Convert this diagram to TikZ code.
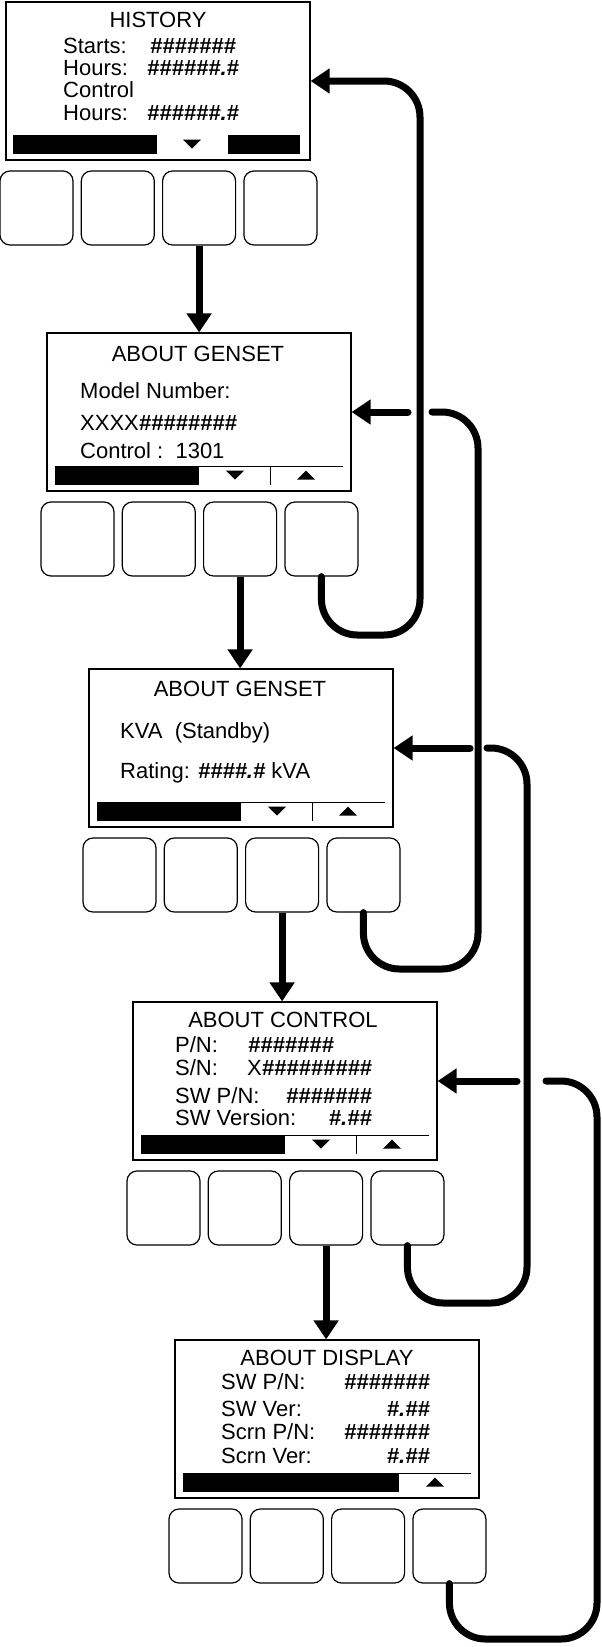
\documentclass[tikz,border=0pt]{standalone}
\usepackage{fontspec}
\setmainfont{Liberation Sans}
\usetikzlibrary{arrows.meta}
\tikzset{
  screen/.style={draw,line width=1.2pt,minimum width=304pt,minimum height=158pt,inner sep=0pt},
  keybtn/.style={draw,line width=1.2pt,rounded corners=10pt,minimum width=73pt,minimum height=74pt,inner sep=0pt},
  lcd/.style={font=\fontsize{22}{26}\selectfont,inner sep=0pt,anchor=base west},
  lcdtitle/.style={lcd,anchor=base},
  lcdval/.style={lcd,anchor=base east},
  flow/.style={line width=7pt,-{Triangle[length=19pt,width=24pt]}},
  back/.style={line width=7pt,line cap=round,rounded corners=36pt},
}
\newcommand{\nums}[1]{{\bfseries\itshape #1}}
\newcommand{\keypad}[1]{%
  \node[screen](#1)at(152,79){};
  \foreach \k in {1,...,4}{%
    \node[keybtn](#1-k\k)at({30.5+81.3*(\k-1)},206){};
  }
}
\newcommand{\dntri}[1]{\fill(#1-9,137.5)--(#1+9,137.5)--(#1,146.5)--cycle;}
\newcommand{\uptri}[1]{\fill(#1-9,146.5)--(#1+9,146.5)--(#1,137.5)--cycle;}
\newcommand{\softbar}[1]{%
  \fill(8,133)rectangle(#1,151.5);
  \draw[line width=1pt](#1,133)--(296,133);
}
\begin{document}
\begin{tikzpicture}[x=1pt,y=-1pt]
  \useasboundingbox(0,0)rectangle(602,1647);
  % history
  \begin{scope}[shift={(6,2)}]
    \keypad{hist}
    \fill(7,133)rectangle(151,151.5);
    \fill(222,133)rectangle(294,151.5);
    \dntri{186}
    \node[lcdtitle](hist-t)at(152,25){HISTORY};
    \node[lcd](hist-a)at(57,51){Starts:};
    \node[lcd](hist-av)at(144,51){\nums{\#\#\#\#\#\#\#}};
    \node[lcd](hist-b)at(57,73){Hours:};
    \node[lcd](hist-bv)at(141,73){\nums{\#\#\#\#\#\#.\#}};
    \node[lcd](hist-c)at(57,95){Control};
    \node[lcd](hist-d)at(57,118){Hours:};
    \node[lcd](hist-dv)at(141,118){\nums{\#\#\#\#\#\#.\#}};
  \end{scope}
  % about genset, model
  \begin{scope}[shift={(47,333)}]
    \keypad{gen1}
    \softbar{152}
    \draw[line width=1pt](223,133)--(223,151.5);
    \dntri{188}
    \uptri{259}
    \node[lcdtitle](gen1-t)at(151,28){ABOUT GENSET};
    \node[lcd](gen1-a)at(33,65){Model Number:};
    \node[lcd](gen1-b)at(33,97){XXXX\nums{\#\#\#\#\#\#\#\#}};
    \node[lcd](gen1-c)at(33,125){Control :\ \ 1301};
  \end{scope}
  % about genset, rating
  \begin{scope}[shift={(89,669)}]
    \keypad{gen2}
    \softbar{152}
    \draw[line width=1pt](223,133)--(223,151.5);
    \dntri{188}
    \uptri{259}
    \node[lcdtitle](gen2-t)at(151,27){ABOUT GENSET};
    \node[lcd](gen2-a)at(31,69){KVA\ \ (Standby)};
    \node[lcd](gen2-b)at(31,109){Rating: \nums{\#\#\#\#.\#} kVA};
  \end{scope}
  % about control
  \begin{scope}[shift={(133,1002)}]
    \keypad{ctrl}
    \softbar{152}
    \draw[line width=1pt](223,133)--(223,151.5);
    \dntri{188}
    \uptri{259}
    \node[lcdtitle](ctrl-t)at(150,25){ABOUT CONTROL};
    \node[lcd](ctrl-a)at(42,50){P/N:};
    \node[lcd](ctrl-av)at(115,50){\nums{\#\#\#\#\#\#\#}};
    \node[lcd](ctrl-b)at(42,73){S/N:};
    \node[lcd](ctrl-bv)at(114,73){X\nums{\#\#\#\#\#\#\#\#\#}};
    \node[lcd](ctrl-c)at(42,101){SW P/N:};
    \node[lcdval](ctrl-cv)at(239,101){\nums{\#\#\#\#\#\#\#}};
    \node[lcd](ctrl-d)at(42,123){SW Version:};
    \node[lcdval](ctrl-dv)at(239,123){\nums{\#.\#\#}};
  \end{scope}
  % about display
  \begin{scope}[shift={(175,1340)}]
    \keypad{disp}
    \softbar{224}
    \uptri{260}
    \node[lcdtitle](disp-t)at(152,25){ABOUT DISPLAY};
    \node[lcd](disp-a)at(46,49){SW P/N:};
    \node[lcdval](disp-av)at(255,49){\nums{\#\#\#\#\#\#\#}};
    \node[lcd](disp-b)at(46,76){SW Ver:};
    \node[lcdval](disp-bv)at(255,76){\nums{\#.\#\#}};
    \node[lcd](disp-c)at(46,99){Scrn P/N:};
    \node[lcdval](disp-cv)at(255,99){\nums{\#\#\#\#\#\#\#}};
    \node[lcd](disp-d)at(46,123){Scrn Ver:};
    \node[lcdval](disp-dv)at(255,123){\nums{\#.\#\#}};
  \end{scope}
  % next screen
  \draw[flow](hist-k3.south)--(hist-k3.south|-gen1.north);
  \draw[flow](gen1-k3.south)--(gen1-k3.south|-gen2.north);
  \draw[flow](gen2-k3.south)--(gen2-k3.south|-ctrl.north);
  \draw[flow](ctrl-k3.south)--(ctrl-k3.south|-disp.north);
  % previous screen
  \coordinate(railA)at(420,635);
  \coordinate(railB)at(478,969);
  \coordinate(railC)at(527,1303);
  \coordinate(railD)at(597,1639);
  \coordinate(jumpB)at(432,412);
  \coordinate(stubB)at(408,412);
  \coordinate(jumpC)at(487,748);
  \coordinate(stubC)at(470,748);
  \coordinate(jumpD)at(546,1081);
  \coordinate(stubD)at(517,1081);
  \draw[flow,back](gen1-k4.south)|-(railA)|-(hist.east);
  \draw[back](gen2-k4.south)|-(railB)|-(jumpB);
  \draw[flow,line cap=round](stubB)--(gen1.east);
  \draw[back](ctrl-k4.south)|-(railC)|-(jumpC);
  \draw[flow,line cap=round](stubC)--(gen2.east);
  \draw[back](disp-k4.south)|-(railD)|-(jumpD);
  \draw[flow,line cap=round](stubD)--(ctrl.east);
\end{tikzpicture}
\end{document}
